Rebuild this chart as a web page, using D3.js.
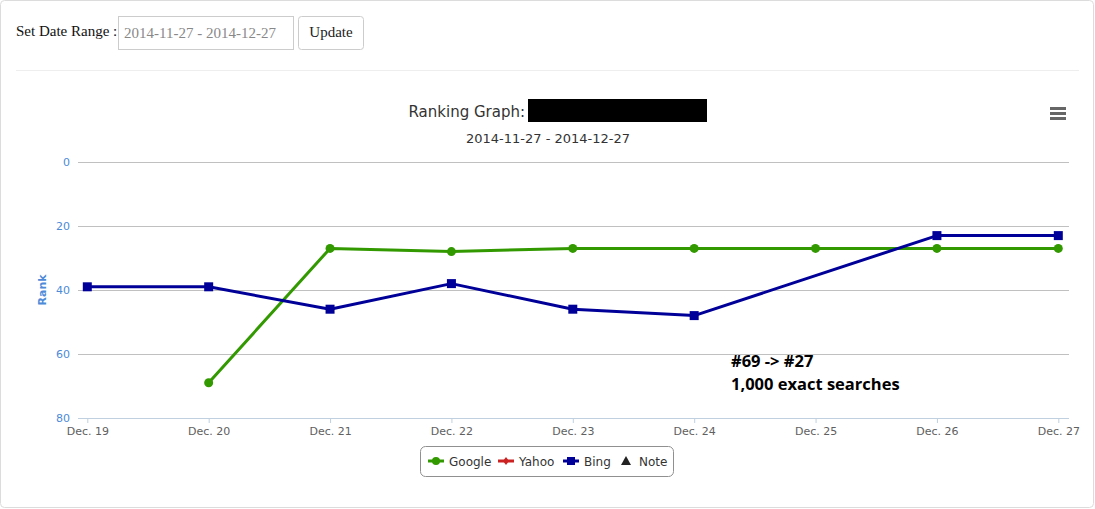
<!DOCTYPE html>
<html><head><meta charset="utf-8">
<script src="https://cdn.jsdelivr.net/npm/d3@7/dist/d3.min.js"></script>
<style>
html,body{margin:0;padding:0;background:#fff;}
svg{display:block;}
</style></head>
<body>
<svg id="c" width="1095" height="509"></svg>
<script>
const categories = ["Dec. 19","Dec. 20","Dec. 21","Dec. 22","Dec. 23","Dec. 24","Dec. 25","Dec. 26","Dec. 27"];
const google = [null, 69, 27, 28, 27, 27, 27, 27, 27];
const yahoo  = [null, null, null, null, null, null, null, null, null];
const bing   = [39, 39, 46, 38, 46, 48, null, 23, 23];
const yTicks = [0, 20, 40, 60, 80];
const dateRange = "2014-11-27 - 2014-12-27";
const annotation = ["#69 -> #27", "1,000 exact searches"];
const legendItems = ["Google", "Yahoo", "Bing", "Note"];

const svg = d3.select("#c");
const sans = "'DejaVu Sans', Verdana, sans-serif";
const serif = "'Liberation Serif', 'DejaVu Serif', serif";

// panel
svg.append("rect").attr("x",0.5).attr("y",0.5).attr("width",1093).attr("height",507)
  .attr("rx",4).attr("fill","#fff").attr("stroke","#dcdcdc");

// form
svg.append("text").attr("x",16).attr("y",36).attr("font-family",serif).attr("font-size",15)
  .attr("fill","#111").text("Set Date Range :");
svg.append("rect").attr("x",118.5).attr("y",16.5).attr("width",175).attr("height",33)
  .attr("fill","#fff").attr("stroke","#cccccc");
svg.append("text").attr("x",124).attr("y",38).attr("font-family",serif).attr("font-size",15)
  .attr("fill","#888").text(dateRange);
svg.append("rect").attr("x",298.5).attr("y",16.5).attr("width",65).attr("height",33).attr("rx",3)
  .attr("fill","#fff").attr("stroke","#cccccc");
svg.append("text").attr("x",331).attr("y",37).attr("text-anchor","middle").attr("font-family",serif)
  .attr("font-size",15).attr("fill","#222").text("Update");
svg.append("line").attr("x1",16).attr("x2",1079).attr("y1",70.5).attr("y2",70.5).attr("stroke","#eeeeee");

// scales
const x = d3.scalePoint().domain(categories).range([87.3, 1058.3]);
const y = d3.scaleLinear().domain([0, 80]).range([162, 418]);
const plotL = 78, plotR = 1069;

// title
svg.append("text").attr("x",525).attr("y",117).attr("text-anchor","end").attr("font-family",sans)
  .attr("font-size",15).attr("fill","#333").text("Ranking Graph:");
svg.append("rect").attr("x",528).attr("y",99).attr("width",179).attr("height",23).attr("fill","#000");
svg.append("text").attr("x",548).attr("y",143).attr("text-anchor","middle").attr("font-family",sans)
  .attr("font-size",13).attr("fill","#333").text(dateRange);

// menu icon
[107,112,117].forEach(v=>{
  svg.append("rect").attr("x",1050).attr("y",v).attr("width",16).attr("height",3).attr("fill","#666");
});

// grid
const gy = svg.append("g").attr("transform",`translate(${plotL},0)`)
  .call(d3.axisLeft(y).tickValues(yTicks).tickSize(-(plotR-plotL)).tickPadding(8));
gy.select(".domain").remove();
gy.selectAll(".tick line").attr("stroke","#c0c0c0").attr("shape-rendering","crispEdges");
gy.selectAll(".tick").filter(d=>d===80).select("line").attr("stroke","none");
gy.selectAll(".tick text").attr("font-family",sans).attr("font-size",11).attr("fill","#4d8ad8").attr("dy","0.32em");

// x axis
const gx = svg.append("g").attr("transform","translate(0,418)")
  .call(d3.axisBottom(x).tickSize(5).tickPadding(4).tickSizeOuter(0));
gx.select(".domain").attr("d",`M${plotL},0.5H${plotR}`).attr("stroke","#c0d0e0");
gx.selectAll(".tick line").attr("stroke","#c0d0e0");
gx.selectAll(".tick text").attr("font-family",sans).attr("font-size",11).attr("fill","#606060");

// y title
svg.append("text").attr("transform","translate(46,290) rotate(-90)").attr("text-anchor","middle")
  .attr("font-family",sans).attr("font-size",11).attr("font-weight","bold").attr("fill","#4d8ad8").text("Rank");

// series
function pts(arr){ return categories.map((c,i)=>({c, v:arr[i]})).filter(d=>d.v!==null); }
const line = d3.line().x(d=>x(d.c)).y(d=>y(d.v));
const gData = pts(google), bData = pts(bing);

svg.append("path").datum(gData).attr("d",line).attr("fill","none").attr("stroke","#339900").attr("stroke-width",3)
  .attr("stroke-linejoin","round");
svg.selectAll(".gm").data(gData).enter().append("circle").attr("cx",d=>x(d.c)).attr("cy",d=>y(d.v))
  .attr("r",4.5).attr("fill","#339900");

svg.append("path").datum(bData).attr("d",line).attr("fill","none").attr("stroke","#000099").attr("stroke-width",3)
  .attr("stroke-linejoin","round");
svg.selectAll(".bm").data(bData).enter().append("rect").attr("x",d=>x(d.c)-4.5).attr("y",d=>y(d.v)-4.5)
  .attr("width",9).attr("height",9).attr("fill","#000099");

// annotation
const ann = svg.append("text").attr("font-family","'Open Sans', sans-serif").attr("font-weight","bold")
  .attr("font-size",16.5).attr("fill","#000");
ann.append("tspan").attr("x",731).attr("y",367).text(annotation[0]);
ann.append("tspan").attr("x",731).attr("y",390).text(annotation[1]);

// legend
svg.append("rect").attr("x",420.5).attr("y",446.5).attr("width",253).attr("height",30).attr("rx",5)
  .attr("fill","#fff").attr("stroke","#909090");
const ly = 461;
const lg = svg.append("g");
// Google
lg.append("line").attr("x1",428).attr("x2",444).attr("y1",ly).attr("y2",ly).attr("stroke","#339900").attr("stroke-width",3);
lg.append("circle").attr("cx",436).attr("cy",ly).attr("r",4).attr("fill","#339900");
// Yahoo
lg.append("line").attr("x1",498).attr("x2",514).attr("y1",ly).attr("y2",ly).attr("stroke","#cc2222").attr("stroke-width",3);
lg.append("path").attr("d",`M506,${ly-4}L509,${ly}L506,${ly+4}L503,${ly}Z`).attr("fill","#cc2222");
// Bing
lg.append("line").attr("x1",563).attr("x2",579).attr("y1",ly).attr("y2",ly).attr("stroke","#000099").attr("stroke-width",3);
lg.append("rect").attr("x",567).attr("y",ly-4).attr("width",8).attr("height",8).attr("fill","#000099");
// Note
lg.append("path").attr("d",`M626,${ly-5}L631,${ly+4}L621,${ly+4}Z`).attr("fill","#222");
const lx = [449, 519, 584, 639];
legendItems.forEach((t,i)=>{
  lg.append("text").attr("x",lx[i]).attr("y",ly+4.5).attr("font-family",sans).attr("font-size",12)
    .attr("fill","#333").text(t);
});
</script>
</body></html>
